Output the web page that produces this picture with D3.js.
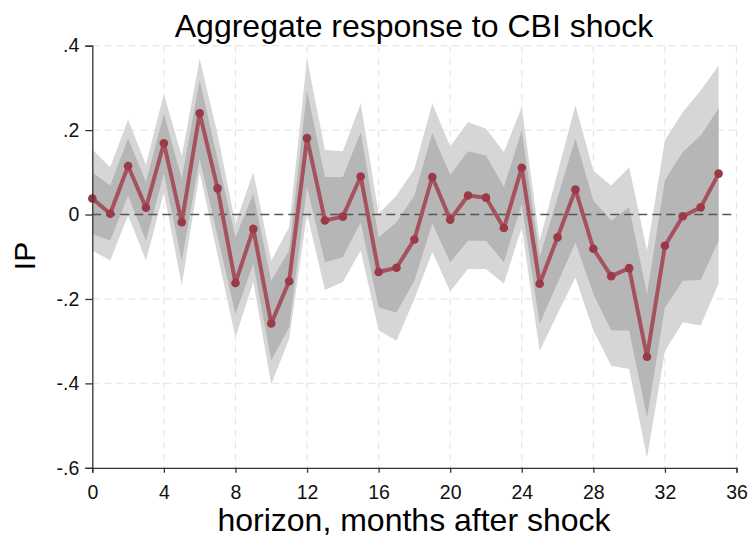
<!DOCTYPE html>
<html><head><meta charset="utf-8">
<script src="https://cdn.jsdelivr.net/npm/d3@7"></script>
<style>body{margin:0;background:#fff}svg{display:block;font-family:"Liberation Sans",Arial,sans-serif}</style>
</head><body><svg id="c" width="748" height="541"></svg>
<script>
const horizon = d3.range(0, 36);
const irf = [0.038,0.002,0.115,0.016,0.169,-0.018,0.240,0.062,-0.162,-0.034,-0.258,-0.158,
  0.181,-0.014,-0.005,0.090,-0.136,-0.126,-0.059,0.089,-0.012,0.045,0.040,-0.032,
  0.111,-0.164,-0.054,0.059,-0.081,-0.146,-0.127,-0.337,-0.074,-0.004,0.017,0.097];
const outerHi = [0.154,0.112,0.225,0.118,0.286,0.138,0.369,0.190,-0.022,0.100,-0.109,-0.030,
  0.369,0.153,0.150,0.263,0.002,0.045,0.108,0.263,0.161,0.219,0.203,0.148,
  0.255,-0.062,0.099,0.259,0.104,0.069,0.112,-0.085,0.176,0.243,0.294,0.353];
const outerLo = [-0.085,-0.109,-0.002,-0.109,0.053,-0.168,0.100,-0.095,-0.291,-0.160,-0.402,-0.295,
  0.002,-0.179,-0.160,-0.085,-0.274,-0.299,-0.200,-0.089,-0.182,-0.129,-0.129,-0.164,
  -0.030,-0.323,-0.235,-0.149,-0.275,-0.358,-0.366,-0.576,-0.323,-0.255,-0.263,-0.164];
const innerHi = [0.100,0.069,0.180,0.077,0.239,0.085,0.318,0.132,-0.054,0.049,-0.157,-0.085,
  0.294,0.089,0.089,0.195,-0.054,-0.018,0.045,0.193,0.094,0.150,0.140,0.065,
  0.199,-0.101,0.040,0.180,0.033,-0.014,0.017,-0.188,0.081,0.148,0.187,0.251];
const innerLo = [-0.046,-0.062,0.045,-0.062,0.097,-0.109,0.132,-0.050,-0.236,-0.117,-0.346,-0.267,
  0.065,-0.113,-0.101,-0.018,-0.220,-0.232,-0.157,-0.021,-0.113,-0.062,-0.062,-0.113,
  0.025,-0.259,-0.162,-0.066,-0.188,-0.275,-0.275,-0.481,-0.220,-0.157,-0.155,-0.062];
const xTicks = [0,4,8,12,16,20,24,28,32,36];
const yTicks = [-0.6,-0.4,-0.2,0,0.2,0.4];
const yTickLabels = ["-.6","-.4","-.2","0",".2",".4"];

const svg = d3.select("#c");
const x = d3.scaleLinear().domain([0,36]).range([92.3,736.5]);
const y = d3.scaleLinear().domain([-0.6,0.4]).range([467.8,45.7]);

// gridlines
const g = svg.append("g");
g.selectAll("line.vx").data(xTicks.filter(d=>d>0)).join("line")
  .attr("x1",d=>x(d)).attr("x2",d=>x(d)).attr("y1",y(0.4)).attr("y2",y(-0.6))
  .attr("stroke","#e6e6e6").attr("stroke-width",1.2).attr("stroke-dasharray","7,5");
g.selectAll("line.hy").data(yTicks.filter(d=>d!==0 && d!==-0.6)).join("line")
  .attr("x1",x(0)).attr("x2",x(36)).attr("y1",d=>y(d)).attr("y2",d=>y(d))
  .attr("stroke","#e6e6e6").attr("stroke-width",1.2).attr("stroke-dasharray","7,5");

const data = horizon.map((h,i)=>({h, v:irf[i], oh:outerHi[i], ol:outerLo[i], ih:innerHi[i], il:innerLo[i]}));
const areaOuter = d3.area().x(d=>x(d.h)).y0(d=>y(d.ol)).y1(d=>y(d.oh));
const areaInner = d3.area().x(d=>x(d.h)).y0(d=>y(d.il)).y1(d=>y(d.ih));
svg.append("path").datum(data).attr("d",areaOuter).attr("fill","#d6d6d6");
svg.append("path").datum(data).attr("d",areaInner).attr("fill","#b6b6b6");

// zero line
svg.append("line").attr("x1",x(0)).attr("x2",x(36)).attr("y1",y(0)).attr("y2",y(0))
  .attr("stroke","#555").attr("stroke-width",1.4).attr("stroke-dasharray","9,5");

// line and markers
svg.append("path").datum(data)
  .attr("d",d3.line().x(d=>x(d.h)).y(d=>y(d.v)))
  .attr("fill","none").attr("stroke","#a5525e").attr("stroke-width",4).attr("stroke-linejoin","round");
svg.selectAll("circle.pt").data(data).join("circle")
  .attr("cx",d=>x(d.h)).attr("cy",d=>y(d.v)).attr("r",4.3).attr("fill","#9a3a48");

// axes
const xAxis = d3.axisBottom(x).tickValues(xTicks).tickSize(5).tickPadding(12).tickFormat(d3.format("d"));
const xg = svg.append("g").attr("transform",`translate(0,${y(-0.6)})`).call(xAxis);
xg.select(".domain").attr("stroke","#333").attr("stroke-width",1.3);
xg.selectAll(".tick line").attr("stroke","#333").attr("stroke-width",1.3);
xg.selectAll("text").attr("font-size",19.5).attr("fill","#111").attr("font-family","Liberation Sans, Arial, sans-serif");

const yAxis = d3.axisLeft(y).tickValues(yTicks).tickSize(7).tickPadding(6).tickFormat((d,i)=>yTickLabels[i]);
const yg = svg.append("g").attr("transform",`translate(${x(0)},0)`).call(yAxis);
yg.select(".domain").attr("stroke","#333").attr("stroke-width",1.3);
yg.selectAll(".tick line").attr("stroke","#333").attr("stroke-width",1.3);
yg.selectAll("text").attr("font-size",19.5).attr("fill","#111").attr("font-family","Liberation Sans, Arial, sans-serif");

// titles
svg.append("text").attr("x",414).attr("y",37).attr("text-anchor","middle")
  .attr("font-size",32).attr("fill","#000").text("Aggregate response to CBI shock");
svg.append("text").attr("x",414).attr("y",531).attr("text-anchor","middle")
  .attr("font-size",32).attr("fill","#000").text("horizon, months after shock");
svg.append("text").attr("transform","translate(35,256) rotate(-90)").attr("text-anchor","middle")
  .attr("font-size",30).attr("fill","#000").text("IP");
</script></body></html>
